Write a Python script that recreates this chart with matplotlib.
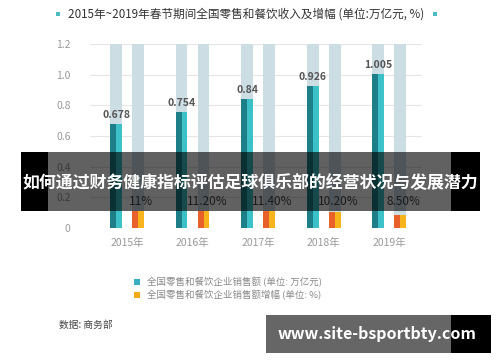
import matplotlib
matplotlib.use("Agg")
import matplotlib.pyplot as plt
from matplotlib.patches import Rectangle
import numpy as np

plt.rcParams['font.family'] = ['Noto Sans CJK SC', 'DejaVu Sans']

# data
years = ["2015年", "2016年", "2017年", "2018年", "2019年"]
sales = [0.678, 0.754, 0.84, 0.926, 1.005]          # 万亿元
growth = [11.0, 11.2, 11.4, 10.2, 8.5]              # %
growth_labels = ["11%", "11.20%", "11.40%", "10.20%", "8.50%"]
y_ticks = [0, 0.2, 0.4, 0.6, 0.8, 1.0, 1.2]
y_tick_labels = ["0", "0.2", "0.4", "0.6", "0.8", "1.0", "1.2"]

W, H = 500, 362
fig = plt.figure(figsize=(W / 100, H / 100), dpi=100)

def fx(px):
    return px / W

def fy(py):
    return 1 - py / H

def box(x0, y1, w, h, **kw):
    # rectangle in pixel coords (top-left origin), y1 = bottom edge
    fig.patches.append(Rectangle((fx(x0), fy(y1)), w / W, h / H,
                                 transform=fig.transFigure, linewidth=0, **kw))

ax = fig.add_axes([fx(90), fy(228), fx(422) - fx(90), fy(44) - fy(228)])

x = np.arange(len(years))
w = 0.18
off = 0.168
bg = "#cddde4"

# pale full-height columns behind both series
ax.bar(x - off, 1.2, w, color=bg, zorder=1)
ax.bar(x + off, 1.2, w, color=bg, zorder=1)

# teal bars, two tones
ax.bar(x - off - w / 4, sales, w / 2, color="#1f7f88", zorder=2)
ax.bar(x - off + w / 4, sales, w / 2, color="#3cc1c8", zorder=2)

# orange bars, two tones
g = np.array(growth) / 100
ax.bar(x + off - w / 4, g, w / 2, color="#e8612b", zorder=2)
ax.bar(x + off + w / 4, g, w / 2, color="#f7b41c", zorder=2)

for i, v in enumerate(sales):
    ax.annotate(str(v), (x[i] - off, v), xytext=(0, 3), textcoords="offset points",
                ha="center", va="bottom", fontsize=7.5, color="#555555",
                fontweight="bold", zorder=3)

for i, lab in enumerate(growth_labels):
    ax.text(x[i] + off + 0.05, 0.172, lab, ha="center", va="center",
            fontsize=8.5, color="#444444", zorder=3)

ax.set_xlim(-0.565, 4.5)
ax.set_ylim(0, 1.2)
ax.set_yticks(y_ticks)
ax.set_yticklabels(y_tick_labels)
ax.set_xticks(x)
ax.set_xticklabels(years)
ax.tick_params(axis="both", length=0, labelsize=7.5, labelcolor="#9a9a9a")
ax.tick_params(axis="y", pad=14)
ax.tick_params(axis="x", pad=7)
ax.grid(axis="y", color="#e6e6e6", linewidth=0.8, zorder=0)
ax.set_axisbelow(True)
for s in ax.spines.values():
    s.set_visible(False)

# title
fig.text(fx(68), fy(14), "2015年~2019年春节期间全国零售和餐饮收入及增幅 (单位:万亿元, %)",
         fontsize=8.4, color="#333333", ha="left", va="center")
box(56, 16, 4, 4, color="#4cbcc0")
box(433, 16, 4, 4, color="#4cbcc0")

# legend
box(134, 285, 6, 6, color="#3aaec2")
box(134, 298, 6, 6, color="#f3ab1a")
fig.text(fx(147), fy(282), "全国零售和餐饮企业销售额 (单位: 万亿元)", fontsize=6.8,
         color="#8a8a8a", ha="left", va="center")
fig.text(fx(147), fy(295), "全国零售和餐饮企业销售额增幅 (单位: %)", fontsize=6.8,
         color="#8a8a8a", ha="left", va="center")

fig.text(fx(59), fy(325), "数据: 商务部", fontsize=7, color="#444444",
         ha="left", va="center")

# overlay banner
box(21, 211, 459, 59, color="black", alpha=0.62, zorder=10)
box(21, 211, 27, 59, color="black", zorder=10)
box(451, 211, 29, 59, color="black", zorder=10)
fig.text(fx(250), fy(183), "如何通过财务健康指标评估足球俱乐部的经营状况与发展潜力",
         fontsize=12.2, color="white", fontweight="bold", ha="center", va="center", zorder=11)

# watermark box
box(266, 353, 225, 38, color="black", alpha=0.6, zorder=10)
box(451, 353, 40, 38, color="black", zorder=10)
fig.text(fx(377), fy(334), "www.site-bsportbty.com", fontsize=11.5, color="white",
         fontweight="bold", ha="center", va="center", zorder=11)

fig.savefig("out.png", dpi=100)
